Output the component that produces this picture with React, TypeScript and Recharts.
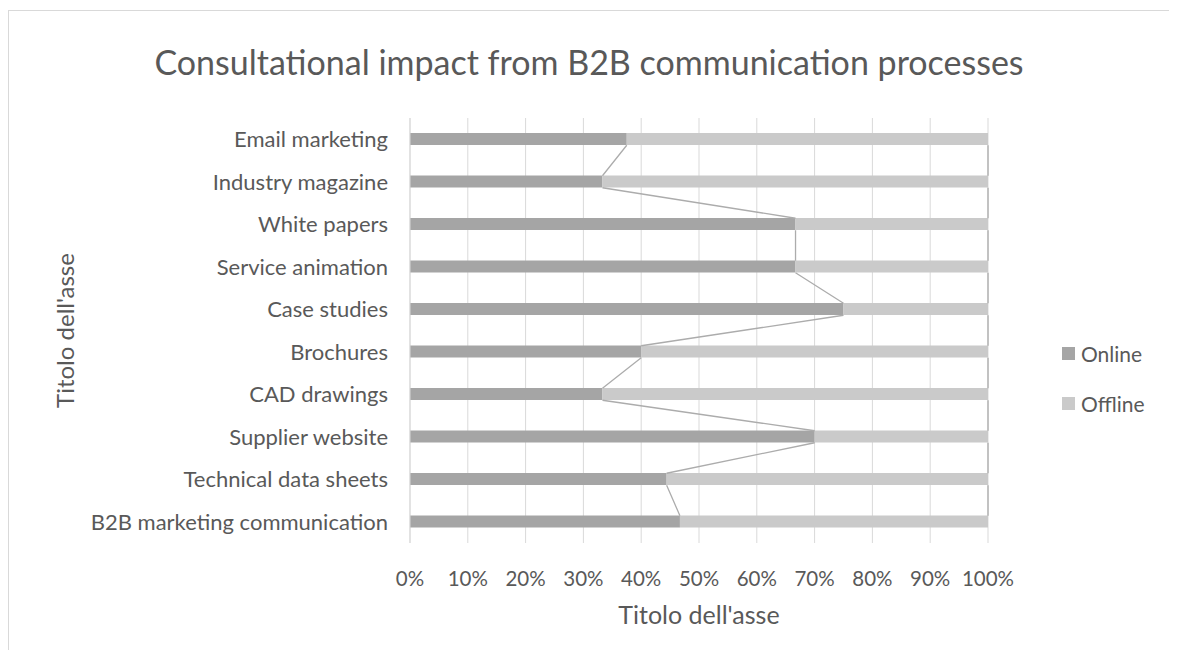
import React from "react";
import {
  ComposedChart,
  Bar,
  Line,
  XAxis,
  YAxis,
  CartesianGrid,
  Legend,
} from "recharts";

const CHANNELS = [
  "Email marketing",
  "Industry magazine",
  "White papers",
  "Service animation",
  "Case studies",
  "Brochures",
  "CAD drawings",
  "Supplier website",
  "Technical data sheets",
  "B2B marketing communication",
];

const ONLINE = [37.5, 33.3, 66.7, 66.7, 75, 40, 33.3, 70, 44.4, 46.7];
const OFFLINE = [62.5, 66.7, 33.3, 33.3, 25, 60, 66.7, 30, 55.6, 53.3];

const X_TICKS = [0, 10, 20, 30, 40, 50, 60, 70, 80, 90, 100];
const SERIES_ORDER = ["Online", "Offline"];

const TEXT = "#595959";
const GRID = "#d9d9d9";
const ONLINE_COLOR = "#a5a5a5";
const OFFLINE_COLOR = "#cacaca";
const SERIES_LINE = "#acacac";
const FONT = "Lato, 'Open Sans', sans-serif";
const BAR_SIZE = 12;

const data = CHANNELS.map((name, i) => ({
  name,
  online: ONLINE[i],
  offline: OFFLINE[i],
  total: ONLINE[i] + OFFLINE[i],
}));

// excel-style series lines: join the bottom edge of one bar end
// to the top edge of the next one, not the centres
function seriesLineCurve(context: any) {
  const half = BAR_SIZE / 2;
  let first = true;
  return {
    areaStart() {},
    areaEnd() {},
    lineStart() {
      first = true;
    },
    lineEnd() {},
    point(x: number, y: number) {
      if (first) {
        context.moveTo(x, y + half);
        first = false;
      } else {
        context.lineTo(x, y - half);
        context.moveTo(x, y + half);
      }
    },
  };
}

function LegendBox({ payload }: any) {
  const items = (payload || [])
    .filter((p: any) => p.type !== "none")
    .sort((a: any, b: any) => SERIES_ORDER.indexOf(a.value) - SERIES_ORDER.indexOf(b.value));
  return (
    <div style={{ fontFamily: FONT, fontSize: 21, color: TEXT }}>
      {items.map((p: any) => (
        <div
          key={p.value}
          style={{ display: "flex", alignItems: "center", height: 24, marginBottom: 26 }}
        >
          <span
            style={{ width: 13, height: 13, background: p.color, marginRight: 6 }}
          />
          <span>{p.value}</span>
        </div>
      ))}
    </div>
  );
}

export default function App() {
  return (
    <div
      style={{
        position: "relative",
        width: 1161,
        height: 642,
        overflow: "hidden",
        fontFamily: FONT,
      }}
    >
      <div
        style={{
          position: "absolute",
          left: 0,
          top: 2,
          width: 1300,
          height: 760,
          border: `1px solid ${GRID}`,
        }}
      />
      <div
        style={{
          position: "absolute",
          left: 0,
          top: 34,
          width: 1162,
          lineHeight: "40px",
          textAlign: "center",
          fontSize: 34,
          color: TEXT,
        }}
      >
        Consultational impact from B2B communication processes
      </div>
      <div style={{ position: "absolute", left: 0, top: 0 }}>
        <ComposedChart
          width={1161}
          height={642}
          layout="vertical"
          data={data}
          margin={{ top: 110, right: 181, bottom: 0, left: 0 }}
        >
          <CartesianGrid horizontal={false} stroke={GRID} />
          <XAxis
            type="number"
            domain={[0, 100]}
            ticks={X_TICKS}
            tickFormatter={(v) => `${v}%`}
            axisLine={false}
            tickLine={false}
            tickSize={0}
            tickMargin={28}
            height={107}
            tick={{ fill: TEXT, fontSize: 20.5, fontFamily: FONT }}
            label={{
              value: "Titolo dell'asse",
              position: "insideTop",
              offset: 63,
              fill: TEXT,
              fontSize: 25,
              fontFamily: FONT,
            }}
          />
          <YAxis
            type="category"
            dataKey="name"
            width={402}
            axisLine={{ stroke: GRID }}
            tickLine={false}
            tickSize={0}
            tickMargin={22}
            interval={0}
            tick={{ fill: TEXT, fontSize: 22, fontFamily: FONT }}
            label={{
              value: "Titolo dell'asse",
              angle: -90,
              position: "insideLeft",
              offset: 57,
              fill: TEXT,
              fontSize: 24,
              fontFamily: FONT,
              style: { textAnchor: "middle" },
            }}
          />
          <Bar
            dataKey="online"
            name="Online"
            stackId="a"
            fill={ONLINE_COLOR}
            barSize={BAR_SIZE}
            isAnimationActive={false}
          />
          <Bar
            dataKey="offline"
            name="Offline"
            stackId="a"
            fill={OFFLINE_COLOR}
            barSize={BAR_SIZE}
            isAnimationActive={false}
          />
          <Line
            dataKey="online"
            type={seriesLineCurve as any}
            stroke={SERIES_LINE}
            strokeWidth={1.3}
            dot={false}
            activeDot={false}
            legendType="none"
            isAnimationActive={false}
          />
          <Line
            dataKey="total"
            type={seriesLineCurve as any}
            stroke={SERIES_LINE}
            strokeWidth={1.3}
            dot={false}
            activeDot={false}
            legendType="none"
            isAnimationActive={false}
          />
          <Legend
            layout="vertical"
            align="center"
            verticalAlign="middle"
            content={LegendBox}
            wrapperStyle={{ left: 1054, top: 333, width: 110 }}
          />
        </ComposedChart>
      </div>
    </div>
  );
}
